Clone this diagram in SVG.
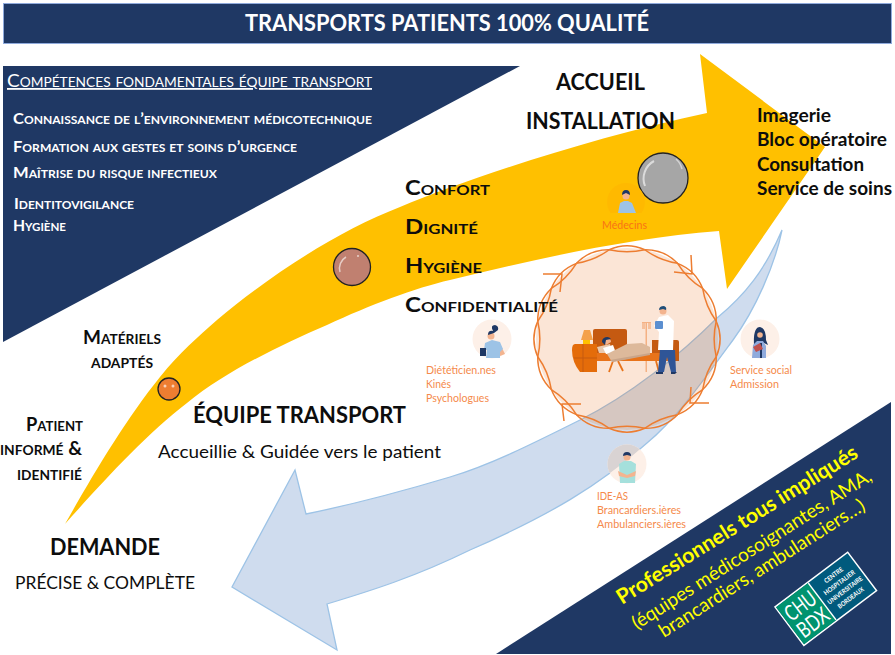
<svg xmlns="http://www.w3.org/2000/svg" xmlns:xlink="http://www.w3.org/1999/xlink" width="895" height="655" viewBox="0 0 895 655">
<style>
text{font-family:Lato,"Open Sans","Liberation Sans",sans-serif}
.w{fill:#fff}.k{fill:#0d0d0d}.b{font-weight:700}
.sc{font-variant:small-caps}
.or{fill:#F58A4B;font-size:10.5px}
.navy{fill:#1F3864}
.bub{stroke:#222;stroke-width:1.3}
.hl{fill:#fff;opacity:.65}
.wave{fill:none;stroke:#ED7D31;stroke-width:1.5}
.pc{fill:#FDF0E8}
.skin{fill:#F3B48F}
.hair{fill:#1F3864}
.ye{fill:#FFFF00}
.lg{fill:#fff;font-weight:700;text-anchor:middle}
</style>
<defs>
<path id="blue" d="M782 230C765 270 745 295 717 318C680 355 630 395 580 420C530 445 490 465 450 477C400 492 350 505 306 514L295 470L232 587L337 650L327 604C370 591 415 577 470 550C550 515 600 485 647 443C675 420 700 385 733 340C755 310 775 265 782 230Z"/>
<clipPath id="inRing"><circle cx="627" cy="339" r="91"/></clipPath>
<clipPath id="ideC"><circle cx="627" cy="464" r="19.500"/></clipPath>
<g id="wavePeriod">
<path class="wave" d="M91 0Q95.13 18.92 84.07 34.82Q70.68 47.23 64.35 64.35"/>
<path class="wave" d="M91 0Q83.37 16.58 84.07 34.82Q80.66 53.89 64.35 64.35"/>
</g>
</defs>
<rect width="895" height="655" fill="#fff"/>

<g id="header">
<rect x="3.500" y="3.500" width="888" height="40" fill="#1F3864" stroke="#8FAADC" stroke-width="1"/>
<text class="w b" x="245" y="31" font-size="22" textLength="404" lengthAdjust="spacingAndGlyphs">TRANSPORTS PATIENTS 100% QUALITÉ</text>
</g>

<g id="competences">
<path class="navy" d="M3 66H520L3 342Z"/>
<text class="w sc" x="7" y="87" font-size="18" textLength="365" lengthAdjust="spacingAndGlyphs" text-decoration="underline">Compétences fondamentales équipe transport</text>
<text class="w b sc" x="13" y="124" font-size="15" textLength="359" lengthAdjust="spacingAndGlyphs">Connaissance de l’environnement médicotechnique</text>
<text class="w b sc" x="13" y="152" font-size="15" textLength="284" lengthAdjust="spacingAndGlyphs">Formation aux gestes et soins d’urgence</text>
<text class="w b sc" x="13" y="178" font-size="15" textLength="204" lengthAdjust="spacingAndGlyphs">Maîtrise du risque infectieux</text>
<text class="w b sc" x="14" y="209" font-size="15" textLength="120" lengthAdjust="spacingAndGlyphs">Identitovigilance</text>
<text class="w b sc" x="13" y="231" font-size="15" textLength="53" lengthAdjust="spacingAndGlyphs">Hygiène</text>
</g>

<g id="connectors">
<path id="yellow-arrow" fill="#FFC000" d="M65 524C90 480 125 420 160 377C180 352 198 337 217 320C270 275 340 230 400 207C470 178 590 138 707 113L700 54L825 147L727 289L719 231C630 238 540 258 450 280C415 288 370 305 327 325C280 345 225 372 187 403C145 435 100 485 65 524Z"/>
<use href="#blue" fill="#CFDCEE" stroke="#9DC3E6" stroke-width="1.3"/>
</g>

<g id="ring">
<circle cx="627" cy="339" r="91" fill="#FBE5D6"/>
<g clip-path="url(#inRing)">
<use href="#blue" fill="#D6C7C1" stroke="#A9B2BF" stroke-width="1.2"/>
</g>
<g transform="translate(627 339) rotate(11.25)">
<use href="#wavePeriod"/>
<use href="#wavePeriod" transform="rotate(45)"/>
<use href="#wavePeriod" transform="rotate(90)"/>
<use href="#wavePeriod" transform="rotate(135)"/>
<use href="#wavePeriod" transform="rotate(180)"/>
<use href="#wavePeriod" transform="rotate(225)"/>
<use href="#wavePeriod" transform="rotate(270)"/>
<use href="#wavePeriod" transform="rotate(315)"/>
</g>
<path class="wave" d="M543 274H562L560 292M674 272L692 274L691 255M709 403H690L691 387M581 404H562L564 421"/>
</g>

<g id="care-scene">
<path fill="#C55A11" d="M593 331Q593 329 595 329H625Q627 329 627 331V354H593Z"/>
<path fill="#E46C0A" d="M575 344H597V372H580Q572 362 572 350Q572 344 575 344Z"/>
<path fill="none" stroke="#C55A11" stroke-width="1" d="M583 344V372M574 358H597"/>
<path fill="#F4A14A" d="M584 330H590L593 340H581Z"/>
<rect x="583" y="340" width="7" height="4" fill="#FFC000"/>
<path fill="#F4B183" d="M645.500 322H647V372H645.500ZM642 322H651V323H642Z"/>
<rect x="642" y="323" width="3" height="6" fill="#F4B183" opacity=".7"/><rect x="648" y="323" width="3" height="6" fill="#F4B183" opacity=".7"/>
<path fill="#C55A11" d="M652 340H677Q679 340 679 342V361H652Z"/>
<rect x="597" y="353" width="72" height="8" fill="#E8731A"/>
<path fill="none" stroke="#E8731A" stroke-width="1.800" d="M613 361L609 372M618 361L623 371M656 361L659 372"/>
<path fill="#E9C9AE" d="M597 347L610 344L612 353H599Z"/>
<path fill="#fff" d="M603 348L613 345L616 353L606 354Z"/>
<path fill="#F3B48F" d="M606 345a3.500 3.500 0 1 1 5 -3z"/>
<path class="hair" d="M602 342a5 5 0 0 1 9 -3l-5 1l-1 5z"/>
<path fill="#DDB99B" d="M607 354L627 344L642 343L650 347V354L612 362Z"/>
<path fill="#C9A58A" d="M610 360L650 353V355L613 362Z"/>
<path fill="#2F5597" d="M660 350H675L676 372H671L667 357L664 372H658Z"/>
<path fill="#1F3864" d="M656 372H663V374H656ZM671 372H677L675 374H671Z"/>
<path fill="#fff" d="M659 317L668 315L674 321L673 350H658L659 332L654 326Z"/>
<rect x="655" y="321" width="8" height="8" rx="1" fill="#5B8FD0"/>
<circle cx="663" cy="311" r="3.500" fill="#F3B48F"/>
<path fill="#1F4E79" d="M659 310Q659 306 664 306Q667 307 666 310L663 309Z"/>
</g>

<g id="bubble-1"><circle class="bub" cx="169" cy="389" r="11" fill="#ED7D31"/><circle class="hl" cx="165" cy="386" r="1.500"/><circle class="hl" cx="173" cy="386" r="1.500"/></g>
<g id="bubble-2"><circle class="bub" cx="352" cy="267" r="18.500" fill="#C08070"/><path d="M340 272a13 13 0 0 1 6 -15" fill="none" stroke="#fff" stroke-opacity=".6" stroke-width="1.500"/><circle class="hl" cx="358" cy="256" r="1"/></g>
<g id="bubble-3"><circle class="bub" cx="663" cy="178" r="25" fill="#A6A6A6"/><path d="M645 186a20 20 0 0 1 9 -25" fill="none" stroke="#fff" stroke-opacity=".6" stroke-width="2"/><path d="M676 159a20 20 0 0 1 6 10" fill="none" stroke="#fff" stroke-opacity=".5" stroke-width="1.500"/></g>

<g id="medecins">
<circle cx="626" cy="202" r="19" fill="#FFB900"/>
<path fill="#FFC000" d="M605 213H647V222H605Z"/>
<path fill="#9DC3E6" d="M618 213L620 203L624 201H628L632 203L636 213Z"/>
<circle cx="626" cy="196" r="3.500" fill="#F3B48F"/>
<path class="hair" d="M622 195Q622 190 626 190Q630 190 630 195L626 193Z"/>
<text x="602" y="229" fill="#F97316" font-size="10.500" textLength="45" lengthAdjust="spacingAndGlyphs">Médecins</text>
</g>

<g id="dieteticiens">
<circle class="pc" cx="492" cy="339" r="19.500"/>
<path class="skin" d="M501 346L505 354L500 356L498 350Z"/>
<path fill="#9DC3E6" d="M485 343L492 340L500 342L503 349L500 352V358H486L487 350L484 350Z"/>
<rect x="480" y="348" width="6" height="8" fill="#1F3864"/>
<circle cx="491" cy="336" r="3.500" fill="#F3B48F"/>
<path class="hair" d="M488 335Q488 330 493 331Q490 325 495 325Q499 326 498 330L494 333Z"/>
<text class="or" x="426" y="374" textLength="70" lengthAdjust="spacingAndGlyphs">Diététicien.nes</text>
<text class="or" x="426" y="388" textLength="25" lengthAdjust="spacingAndGlyphs">Kinés</text>
<text class="or" x="426" y="402" textLength="63" lengthAdjust="spacingAndGlyphs">Psychologues</text>
</g>

<g id="service-social">
<circle class="pc" cx="760" cy="339" r="19.500"/>
<path class="hair" d="M754 345Q753 327 760 327Q766 328 766 340L768 345L762 342H757Z"/>
<circle cx="760" cy="335" r="2.800" fill="#F3B48F"/>
<path fill="#8FAADC" d="M753 345L757 341H763L766 346V358H752Z"/>
<rect x="760" y="343" width="2" height="15" fill="#1F3864"/>
<path fill="#C0504D" d="M753 347L760 343L763 349L756 352Z"/>
<text class="or" x="730" y="374" textLength="62" lengthAdjust="spacingAndGlyphs">Service social</text>
<text class="or" x="730" y="388" textLength="49" lengthAdjust="spacingAndGlyphs">Admission</text>
</g>

<g id="ide-as">
<circle class="pc" cx="627" cy="464" r="19.500"/>
<g clip-path="url(#ideC)"><use href="#blue" fill="#D9D3D3"/></g>
<path fill="#A5E0DC" d="M619 464L624 461H631L636 464L635 483H620Z"/>
<path class="skin" d="M618 471L627 475L636 471L635 476L627 478L619 476Z"/>
<circle cx="627" cy="457" r="3.500" fill="#F3B48F"/>
<path class="hair" d="M623 456Q623 452 627 452Q631 452 631 456L627 455Z"/>
<text class="or" x="597" y="500" textLength="31" lengthAdjust="spacingAndGlyphs">IDE-AS</text>
<text class="or" x="597" y="514" textLength="84" lengthAdjust="spacingAndGlyphs">Brancardiers.ières</text>
<text class="or" x="597" y="528" textLength="89" lengthAdjust="spacingAndGlyphs">Ambulanciers.ières</text>
</g>

<g id="labels">
<text class="k b" x="556" y="90" font-size="22" textLength="89" lengthAdjust="spacingAndGlyphs">ACCUEIL</text>
<text class="k b" x="526" y="129" font-size="22" textLength="149" lengthAdjust="spacingAndGlyphs">INSTALLATION</text>
<text class="k b sc" x="405" y="195" font-size="20" textLength="85" lengthAdjust="spacingAndGlyphs">Confort</text>
<text class="k b sc" x="405" y="234" font-size="20" textLength="73" lengthAdjust="spacingAndGlyphs">Dignité</text>
<text class="k b sc" x="405" y="273" font-size="20" textLength="77" lengthAdjust="spacingAndGlyphs">Hygiène</text>
<text class="k b sc" x="405" y="312" font-size="20" textLength="153" lengthAdjust="spacingAndGlyphs">Confidentialité</text>
<text class="k b" x="757" y="122" font-size="18" textLength="74" lengthAdjust="spacingAndGlyphs">Imagerie</text>
<text class="k b" x="757" y="146" font-size="18" textLength="130" lengthAdjust="spacingAndGlyphs">Bloc opératoire</text>
<text class="k b" x="757" y="171" font-size="18" textLength="107" lengthAdjust="spacingAndGlyphs">Consultation</text>
<text class="k b" x="757" y="195" font-size="18" textLength="135" lengthAdjust="spacingAndGlyphs">Service de soins</text>
<text class="k b sc" x="83" y="344" font-size="18" textLength="78" lengthAdjust="spacingAndGlyphs">Matériels</text>
<text class="k b sc" x="91" y="368" font-size="18" textLength="62" lengthAdjust="spacingAndGlyphs">adaptés</text>
<text class="k b sc" x="26" y="431" font-size="18" textLength="57" lengthAdjust="spacingAndGlyphs">Patient</text>
<text class="k b sc" x="0" y="455" font-size="18" textLength="82" lengthAdjust="spacingAndGlyphs">informé &amp;</text>
<text class="k b sc" x="17" y="480" font-size="18" textLength="65" lengthAdjust="spacingAndGlyphs">identifié</text>
<text class="k b" x="193" y="423" font-size="22" textLength="213" lengthAdjust="spacingAndGlyphs">ÉQUIPE TRANSPORT</text>
<text class="k" x="158" y="458" font-size="18" textLength="283" lengthAdjust="spacingAndGlyphs">Accueillie &amp; Guidée vers le patient</text>
<text class="k b" x="50" y="555" font-size="22" textLength="110" lengthAdjust="spacingAndGlyphs">DEMANDE</text>
<text class="k" x="15" y="589" font-size="18" textLength="180" lengthAdjust="spacingAndGlyphs">PRÉCISE &amp; COMPLÈTE</text>
</g>

<g id="professionnels">
<path class="navy" d="M496 654L891 402V654Z"/>
<text class="ye b" transform="translate(622 605) rotate(-32)" font-size="21" textLength="280" lengthAdjust="spacingAndGlyphs">Professionnels tous impliqués</text>
<text class="ye" transform="translate(637 630) rotate(-32.500)" font-size="19" textLength="280" lengthAdjust="spacingAndGlyphs">(équipes médicosoignantes, AMA,</text>
<text class="ye" transform="translate(664 638) rotate(-32.500)" font-size="19" textLength="240" lengthAdjust="spacingAndGlyphs">brancardiers, ambulanciers…)</text>
</g>

<g id="logo" transform="translate(775 607) rotate(-37)">
<rect x="0" y="0" width="91" height="48" fill="#005A7D" stroke="#fff" stroke-width="1.500"/>
<rect x=".8" y=".8" width="40" height="46.400" fill="#00936F"/>
<path d="M41 1V47" stroke="#fff" stroke-width="1.500"/>
<text class="w" x="4" y="22" font-size="22" textLength="34" lengthAdjust="spacingAndGlyphs">CHU</text>
<text class="w" x="4" y="43" font-size="22" textLength="34" lengthAdjust="spacingAndGlyphs">BDX</text>
<text class="lg" x="66" y="12" font-size="6.500" textLength="22" lengthAdjust="spacingAndGlyphs">CENTRE</text>
<text class="lg" x="66" y="21.500" font-size="6.500" textLength="37" lengthAdjust="spacingAndGlyphs">HOSPITALIER</text>
<text class="lg" x="66" y="31" font-size="6.500" textLength="42" lengthAdjust="spacingAndGlyphs">UNIVERSITAIRE</text>
<text class="lg" x="66" y="40.500" font-size="6.500" textLength="31" lengthAdjust="spacingAndGlyphs">BORDEAUX</text>
</g>
</svg>
